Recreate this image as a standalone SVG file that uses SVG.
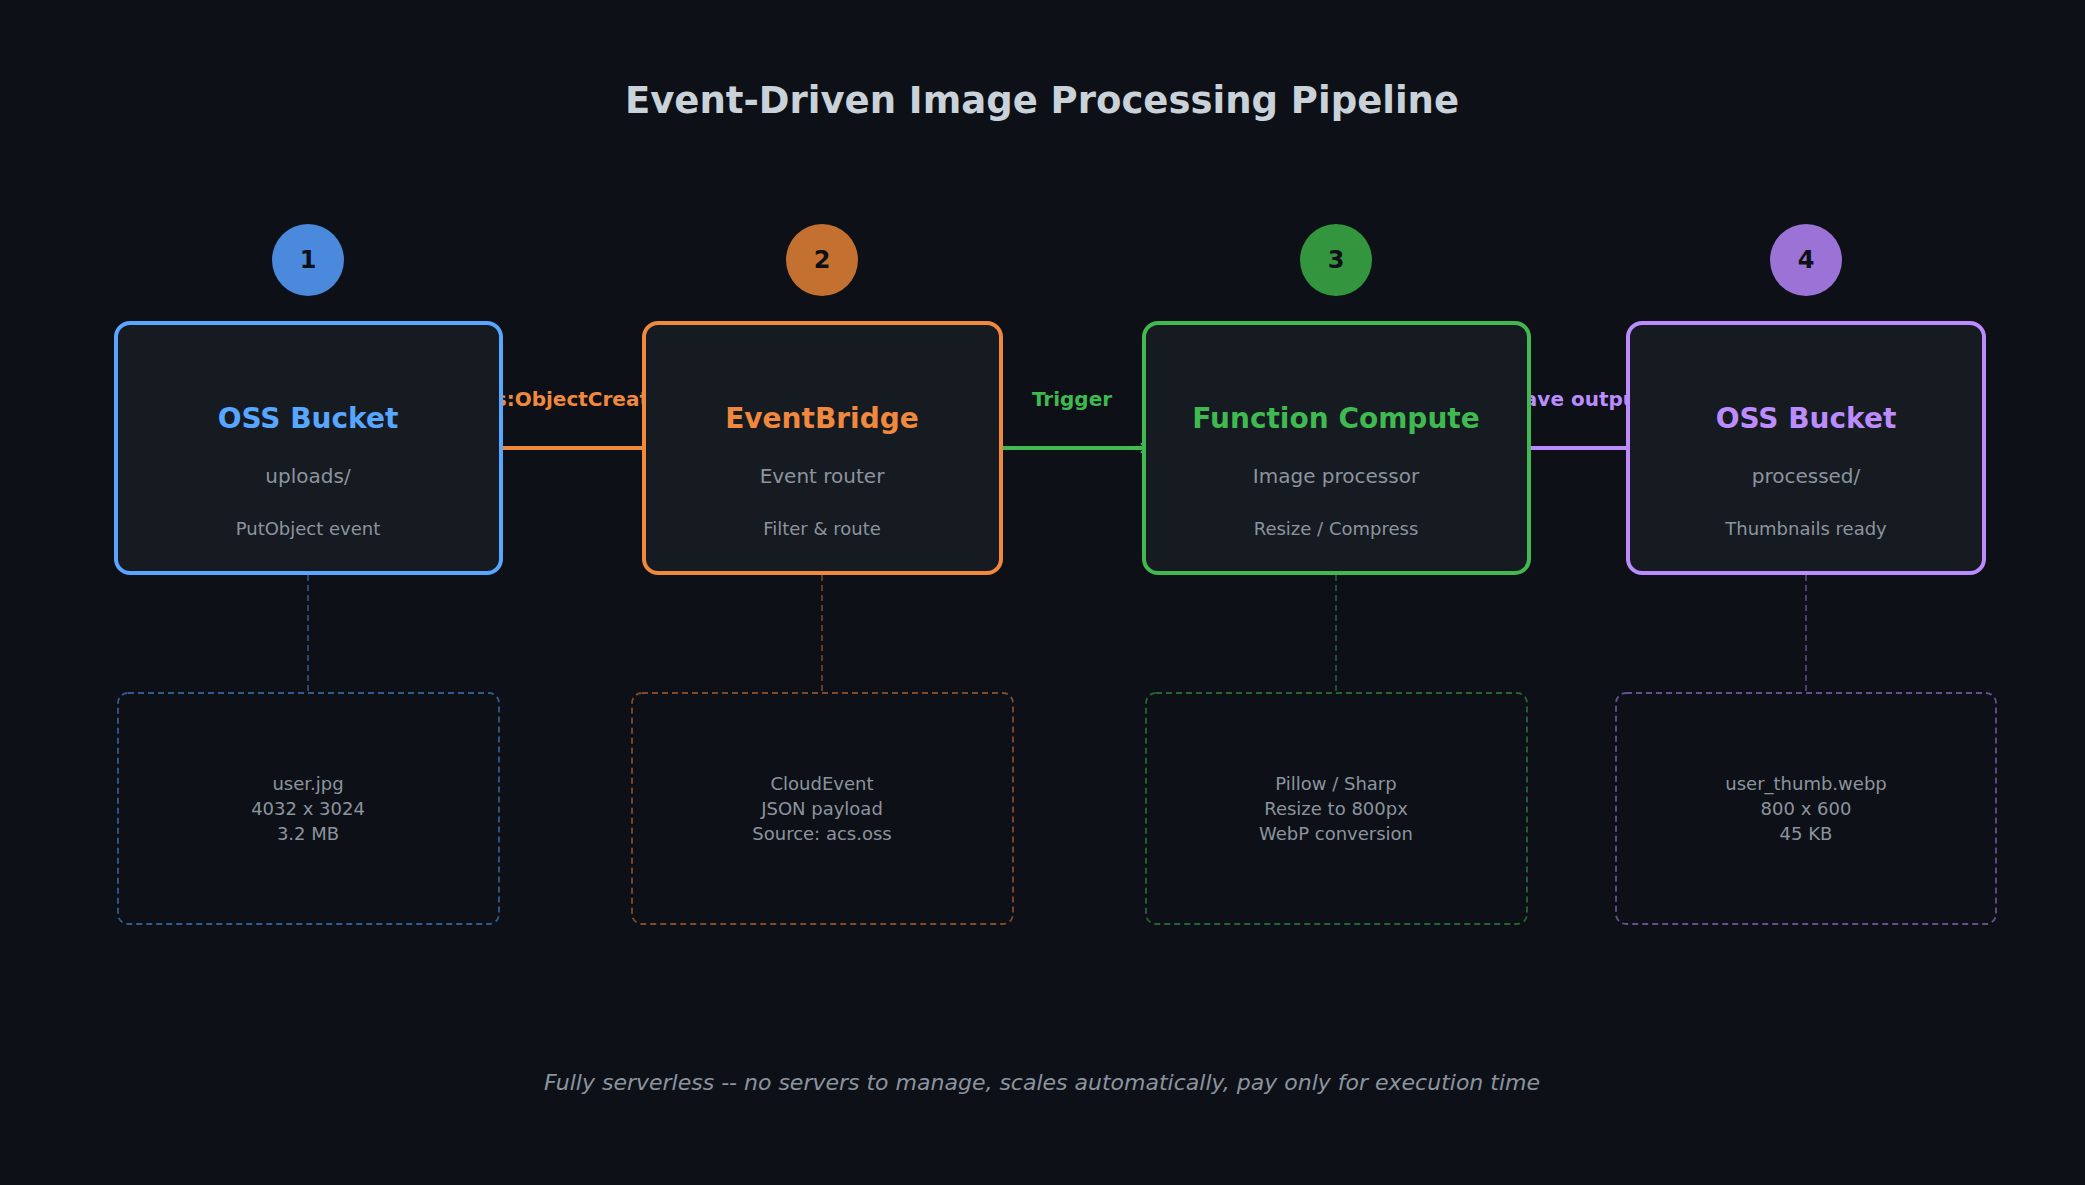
<svg xmlns="http://www.w3.org/2000/svg" width="2085" height="1185" viewBox="0 0 2085 1185">
<defs>
<style>
text{font-family:"DejaVu Sans","Noto Sans",sans-serif;text-anchor:middle}
.box{fill:#161b22;stroke-width:4}
.det{fill:#0d1117;stroke-width:1.8;stroke-dasharray:6 4}
.ttl{font-size:28px;font-weight:bold}
.sub{font-size:20px;fill:#8b949e}
.sm{font-size:18px;fill:#8b949e}
.num{font-size:24px;font-weight:bold;fill:#0d1117}
.lbl{font-size:20px;font-weight:bold}
.det-t{font-size:18px;fill:#8b949e}
.vl{stroke-width:1.5;stroke-dasharray:6 4}
</style>
<marker id="mo" markerWidth="10" markerHeight="10" refX="8" refY="5" orient="auto" markerUnits="userSpaceOnUse"><path d="M1,0 L9,5 L1,10" fill="none" stroke="#f0883e" stroke-width="3"/></marker>
<marker id="mg" markerWidth="10" markerHeight="10" refX="8" refY="5" orient="auto" markerUnits="userSpaceOnUse"><path d="M1,0 L9,5 L1,10" fill="none" stroke="#3fb950" stroke-width="3"/></marker>
<marker id="mp" markerWidth="10" markerHeight="10" refX="8" refY="5" orient="auto" markerUnits="userSpaceOnUse"><path d="M1,0 L9,5 L1,10" fill="none" stroke="#bc8cff" stroke-width="3"/></marker>
</defs>
<rect width="2085" height="1185" fill="#0d1117"/>
<text x="1042" y="113" font-size="37" font-weight="bold" fill="#c9d1d9">Event-Driven Image Processing Pipeline</text>

<g id="connectors">
<line x1="308" y1="565" x2="308" y2="705" stroke="#58a6ff" opacity="0.5" class="vl"/>
<line x1="822" y1="565" x2="822" y2="705" stroke="#f0883e" opacity="0.5" class="vl"/>
<line x1="1336" y1="565" x2="1336" y2="705" stroke="#3fb950" opacity="0.5" class="vl"/>
<line x1="1806" y1="565" x2="1806" y2="705" stroke="#bc8cff" opacity="0.5" class="vl"/>
<line x1="489" y1="448" x2="650" y2="448" stroke="#f0883e" stroke-width="4" marker-end="url(#mo)"/>
<line x1="987" y1="448" x2="1148" y2="448" stroke="#3fb950" stroke-width="4" marker-end="url(#mg)"/>
<line x1="1516" y1="448" x2="1634" y2="448" stroke="#bc8cff" stroke-width="4" marker-end="url(#mp)"/>
<text x="573" y="406" class="lbl" fill="#f0883e">oss:ObjectCreated</text>
<text x="1072" y="406" class="lbl" fill="#3fb950">Trigger</text>
<text x="1578" y="406" class="lbl" fill="#bc8cff">Save output</text>
</g>

<g id="node1">
<circle cx="308" cy="260" r="36" fill="#4a89dc"/><text x="308" y="268" class="num">1</text>
<rect x="116" y="323" width="385" height="250" rx="14" class="box" stroke="#58a6ff"/>
<text x="308" y="428" class="ttl" fill="#58a6ff">OSS Bucket</text>
<text x="308" y="483" class="sub">uploads/</text>
<text x="308" y="535" class="sm">PutObject event</text>
</g>
<g id="node2">
<circle cx="822" cy="260" r="36" fill="#c47030"/><text x="822" y="268" class="num">2</text>
<rect x="644" y="323" width="357" height="250" rx="14" class="box" stroke="#f0883e"/>
<text x="822" y="428" class="ttl" fill="#f0883e">EventBridge</text>
<text x="822" y="483" class="sub">Event router</text>
<text x="822" y="535" class="sm">Filter &amp; route</text>
</g>
<g id="node3">
<circle cx="1336" cy="260" r="36" fill="#33963f"/><text x="1336" y="268" class="num">3</text>
<rect x="1144" y="323" width="385" height="250" rx="14" class="box" stroke="#3fb950"/>
<text x="1336" y="428" class="ttl" fill="#3fb950">Function Compute</text>
<text x="1336" y="483" class="sub">Image processor</text>
<text x="1336" y="535" class="sm">Resize / Compress</text>
</g>
<g id="node4">
<circle cx="1806" cy="260" r="36" fill="#9b72d6"/><text x="1806" y="268" class="num">4</text>
<rect x="1628" y="323" width="356" height="250" rx="14" class="box" stroke="#bc8cff"/>
<text x="1806" y="428" class="ttl" fill="#bc8cff">OSS Bucket</text>
<text x="1806" y="483" class="sub">processed/</text>
<text x="1806" y="535" class="sm">Thumbnails ready</text>
</g>

<g id="detail1">
<rect x="118" y="693" width="381" height="231" rx="10" class="det" stroke="#58a6ff" stroke-opacity="0.5"/>
<text x="308" y="790" class="det-t">user.jpg</text><text x="308" y="815" class="det-t">4032 x 3024</text><text x="308" y="840" class="det-t">3.2 MB</text>
</g>
<g id="detail2">
<rect x="632" y="693" width="381" height="231" rx="10" class="det" stroke="#f0883e" stroke-opacity="0.5"/>
<text x="822" y="790" class="det-t">CloudEvent</text><text x="822" y="815" class="det-t">JSON payload</text><text x="822" y="840" class="det-t">Source: acs.oss</text>
</g>
<g id="detail3">
<rect x="1146" y="693" width="381" height="231" rx="10" class="det" stroke="#3fb950" stroke-opacity="0.5"/>
<text x="1336" y="790" class="det-t">Pillow / Sharp</text><text x="1336" y="815" class="det-t">Resize to 800px</text><text x="1336" y="840" class="det-t">WebP conversion</text>
</g>
<g id="detail4">
<rect x="1616" y="693" width="380" height="231" rx="10" class="det" stroke="#bc8cff" stroke-opacity="0.5"/>
<text x="1806" y="790" class="det-t">user_thumb.webp</text><text x="1806" y="815" class="det-t">800 x 600</text><text x="1806" y="840" class="det-t">45 KB</text>
</g>

<text x="1042" y="1090" font-size="22" font-style="italic" fill="#8b949e">Fully serverless -- no servers to manage, scales automatically, pay only for execution time</text>
</svg>
